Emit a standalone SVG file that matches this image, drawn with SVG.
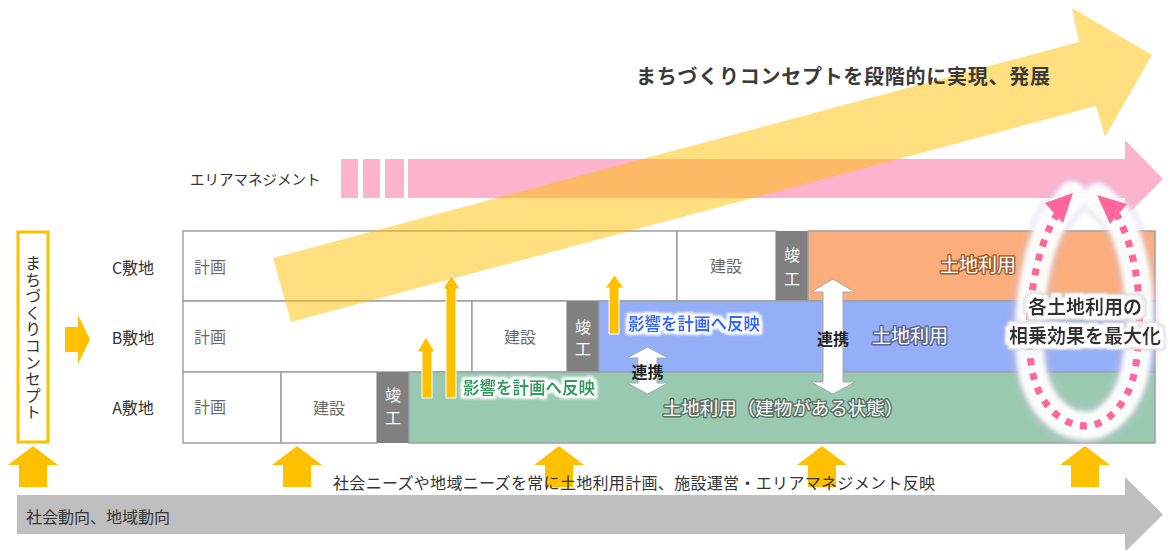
<svg xmlns="http://www.w3.org/2000/svg" width="1171" height="550" viewBox="0 0 1171 550">
<style>
text{font-family:"Noto Sans CJK JP","Noto Sans",sans-serif;}
.lbl{font-size:16px;fill:#333;}
.cell{font-size:16px;fill:#6a6a6a;}
.done{font-size:16px;fill:#fff;text-anchor:middle;}
.c{fill:#fff;stroke:#a0a0a0;stroke-width:1.5;}
.yel{fill:#FFC000;stroke:#fff;stroke-width:1;}
.byel{fill:#FFC000;}
.dbl{fill:#fff;stroke:#a8a8a8;stroke-width:1;}
.lu{font-size:19px;fill:#fff;stroke-width:3;stroke-linejoin:round;paint-order:stroke;}
.eik{font-size:16.5px;font-weight:bold;}
.rk{font-size:16px;font-weight:bold;fill:#222;text-anchor:middle;}
</style>
<defs>
<filter id="halo" x="-15%" y="-40%" width="130%" height="180%">
<feMorphology in="SourceAlpha" operator="dilate" radius="2.5" result="d"/>
<feGaussianBlur in="d" stdDeviation="1" result="b"/>
<feFlood flood-color="#ffffff"/>
<feComposite in2="b" operator="in" result="w"/>
<feMerge><feMergeNode in="w"/><feMergeNode in="SourceGraphic"/></feMerge>
</filter>
<filter id="halo2" x="-15%" y="-40%" width="130%" height="180%">
<feMorphology in="SourceAlpha" operator="dilate" radius="5" result="d1"/>
<feGaussianBlur in="d1" stdDeviation="1.5" result="b1"/>
<feFlood flood-color="#c8c8c8"/>
<feComposite in2="b1" operator="in" result="g"/>
<feMorphology in="SourceAlpha" operator="dilate" radius="4" result="d2"/>
<feGaussianBlur in="d2" stdDeviation="0.8" result="b2"/>
<feFlood flood-color="#ffffff"/>
<feComposite in2="b2" operator="in" result="w"/>
<feMerge><feMergeNode in="g"/><feMergeNode in="w"/><feMergeNode in="SourceGraphic"/></feMerge>
</filter>
<filter id="blur2" x="-30%" y="-20%" width="160%" height="140%"><feGaussianBlur stdDeviation="2"/></filter>
<filter id="blur4" x="-30%" y="-20%" width="160%" height="140%"><feGaussianBlur stdDeviation="3.5"/></filter>
</defs>

<!-- area management pink arrow -->
<g id="area-management">
<rect x="341" y="159" width="17" height="39" fill="#FDB3CC"/>
<rect x="363" y="159" width="17" height="39" fill="#FDB3CC"/>
<rect x="385" y="159" width="19" height="39" fill="#FDB3CC"/>
<polygon points="408,159 1125,159 1125,140 1163,179 1125,217 1125,198 408,198" fill="#FDB3CC"/>
<text x="190" y="185" style="font-size:14.5px;fill:#333">エリアマネジメント</text>
</g>

<!-- table -->
<g id="site-C">
<text x="133" y="274" class="lbl" text-anchor="middle">C敷地</text>
<rect x="183" y="231" width="494" height="70" class="c"/>
<rect x="677" y="231" width="99" height="70" class="c"/>
<rect x="776" y="231" width="32" height="70" fill="#808080"/>
<rect x="808" y="231" width="347" height="70" fill="#FBAD7B" stroke="#a0a0a0" stroke-width="1.5"/>
<text x="194" y="273" class="cell">計画</text>
<text x="726" y="272" class="cell" text-anchor="middle">建設</text>
<text x="792" y="261" class="done">竣</text>
<text x="792" y="285" class="done">工</text>
<text x="978" y="272" class="lu" text-anchor="middle" stroke="#a0602e">土地利用</text>
</g>
<g id="site-B">
<text x="133" y="344" class="lbl" text-anchor="middle">B敷地</text>
<rect x="183" y="301" width="289" height="71" class="c"/>
<rect x="472" y="301" width="95" height="71" class="c"/>
<rect x="567" y="301" width="32" height="71" fill="#808080"/>
<rect x="599" y="301" width="556" height="71" fill="#95AEF8" stroke="#a0a0a0" stroke-width="1.5"/>
<text x="194" y="343" class="cell">計画</text>
<text x="520" y="343" class="cell" text-anchor="middle">建設</text>
<text x="583" y="333" class="done">竣</text>
<text x="583" y="355" class="done">工</text>
<text x="910" y="343" class="lu" text-anchor="middle" stroke="#5a6790">土地利用</text>
</g>
<g id="site-A">
<text x="133" y="414" class="lbl" text-anchor="middle">A敷地</text>
<rect x="183" y="372" width="98" height="71" class="c"/>
<rect x="281" y="372" width="96" height="71" class="c"/>
<rect x="377" y="372" width="32" height="71" fill="#808080"/>
<rect x="409" y="372" width="746" height="71" fill="#9AC9B1" stroke="#a0a0a0" stroke-width="1.5"/>
<text x="194" y="413" class="cell">計画</text>
<text x="329" y="414" class="cell" text-anchor="middle">建設</text>
<text x="393" y="401" class="done">竣</text>
<text x="393" y="424" class="done">工</text>
<text x="783" y="415" class="lu" text-anchor="middle" stroke="#5e7266" style="font-size:18.5px">土地利用（建物がある状態）</text>
</g>

<!-- big yellow concept arrow -->
<g id="concept-arrow">
<polygon points="273,258 1079,42 1072,8 1152,55 1105,137 1096,106 291,322" fill="#FFC000" opacity="0.5"/>
<text x="636" y="84" textLength="414" style="font-size:20px;font-weight:bold;fill:#3a3a3a">まちづくりコンセプトを段階的に実現、発展</text>
</g>

<!-- left concept box -->
<g id="concept-box">
<rect x="18" y="232" width="30" height="210" fill="#fff" stroke="#FFC000" stroke-width="3"/>
<text x="33" y="338" class="lbl" text-anchor="middle" style="font-size:16px;writing-mode:vertical-rl;text-orientation:upright;letter-spacing:0.6px">まちづくりコンセプト</text>
</g>

<g id="connectors">
<polygon class="byel" points="65,327 78,327 78,315 90,339.5 78,364 78,352 65,352"/>
<!-- reflect arrows -->
<polygon class="yel" points="422,398 422,352 417,352 426,337 435,352 432,352 432,398"/>
<polygon class="yel" points="446,398 446,289 443,289 451.5,275 460,289 456,289 456,398"/>
<polygon class="yel" points="609,334 609,288 605,288 614.5,275 624,288 619,288 619,334"/>
<!-- cooperation arrows -->
<polygon class="dbl" points="647.5,347 668,358 657,358 657,383 668,383 647.5,394 627,383 638,383 638,358 627,358"/>
<polygon class="dbl" points="833,279 855,292 843,292 843,382 855,382 833,394 811,382 823,382 823,292 811,292"/>
<!-- bottom upward arrows -->
<polygon class="byel" points="19,487 19,465 8,465 33,446 58,465 47,465 47,487"/>
<polygon class="byel" points="283,487 283,465 272,465 297,446 322,465 311,465 311,487"/>
<polygon class="byel" points="545,487 545,465 534,465 559,446 584,465 573,465 573,487"/>
<polygon class="byel" points="808,487 808,465 797,465 822,446 847,465 836,465 836,487"/>
<polygon class="byel" points="1071,487 1071,465 1060,465 1085,446 1110,465 1099,465 1099,487"/>
</g>

<g id="labels">
<text x="463" y="394" class="eik" fill="#2E9B5E" filter="url(#halo)">影響を計画へ反映</text>
<text x="628" y="330" class="eik" fill="#3366FF" filter="url(#halo)">影響を計画へ反映</text>
<text x="647.5" y="378" class="rk">連携</text>
<text x="833" y="345" class="rk">連携</text>
</g>

<!-- synergy loop -->
<g id="synergy">
<path d="M1072,195 L1058,213 C1034,248 1024,320 1032,370 C1040,410 1066,426 1086,426 C1106,426 1128,405 1135,370 C1143,325 1142,262 1117,215 L1098,197" fill="none" stroke="#cfc4de" stroke-width="36" stroke-linecap="round" stroke-linejoin="round" opacity="0.45" filter="url(#blur4)"/>
<path d="M1072,195 L1058,213 C1034,248 1024,320 1032,370 C1040,410 1066,426 1086,426 C1106,426 1128,405 1135,370 C1143,325 1142,262 1117,215 L1098,197" fill="none" stroke="#ffffff" stroke-width="28" stroke-linecap="round" stroke-linejoin="round" opacity="0.95" filter="url(#blur2)"/>
<path d="M1058,213 C1034,248 1024,320 1032,370 C1040,410 1066,426 1086,426 C1106,426 1128,405 1135,370 C1143,325 1142,262 1117,215" fill="none" stroke="#FF6699" stroke-width="7" stroke-dasharray="7 8"/>
<polygon points="1073,193 1045,203 1063,223" fill="#FF6699"/>
<polygon points="1097,195 1127,204 1110,224" fill="#FF6699"/>
<text x="1085" y="314" text-anchor="middle" filter="url(#halo2)" style="font-size:19px;fill:#333;font-weight:bold">各土地利用の</text>
<text x="1085" y="343" text-anchor="middle" filter="url(#halo2)" style="font-size:19px;fill:#333;font-weight:bold">相乗効果を最大化</text>
</g>

<!-- social trends gray arrow -->
<g id="social-trends">
<polygon points="17,495 1125,495 1125,477 1163,514.5 1125,552 1125,534 17,534" fill="#BFBFBF"/>
<text x="26" y="523" style="font-size:16px;fill:#333">社会動向、地域動向</text>
<text x="333" y="489" textLength="602" style="font-size:16px;fill:#333">社会ニーズや地域ニーズを常に土地利用計画、施設運営・エリアマネジメント反映</text>
</g>
</svg>
